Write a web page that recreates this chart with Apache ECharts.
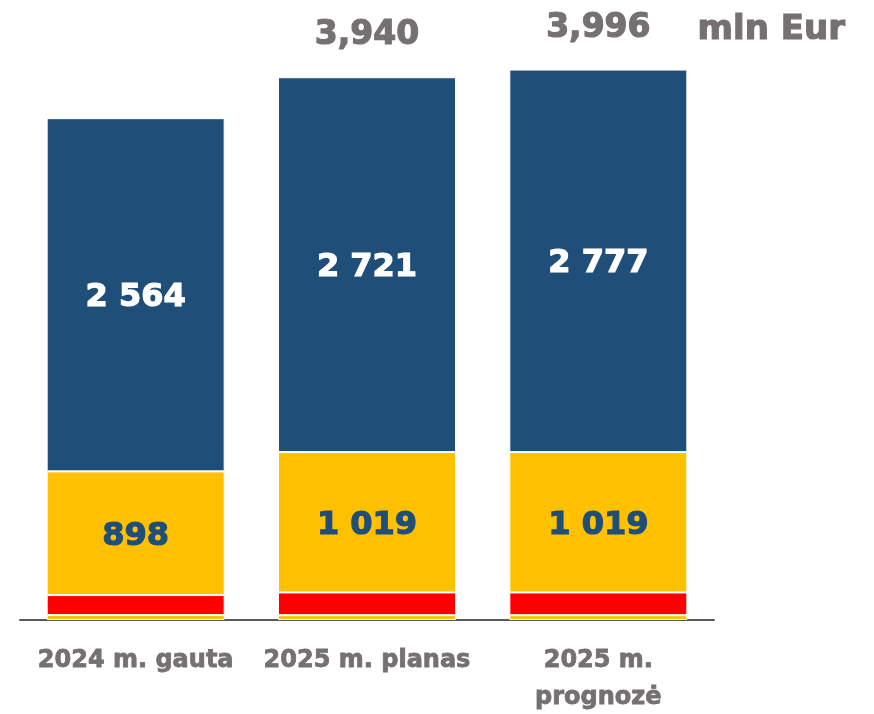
<!DOCTYPE html>
<html>
<head>
<meta charset="utf-8">
<script src="https://cdn.jsdelivr.net/npm/echarts@6/dist/echarts.min.js"></script>
<style>
html,body{margin:0;padding:0;background:#fff;}
#chart{width:874px;height:714px;}
</style>
</head>
<body>
<div id="chart"></div>
<script>
const categories = ['2024 m. gauta', '2025 m. planas', '2025 m.\nprognozė'];
const smallValues = [36, 35, 35];
const redValues = [145, 165, 165];
const yellowValues = [898, 1019, 1019];
const blueValues = [2564, 2721, 2777];
const totalLabels = ['', '3,940', '3,996'];
const unitLabel = 'mln Eur';

const FONT = '"DejaVu Sans", "Liberation Sans", Arial, sans-serif';
const GRAY = '#757171';
const fmt = v => String(v).replace(/\B(?=(\d{3})+(?!\d))/g, ' ');

const chart = echarts.init(document.getElementById('chart'));
const border = { borderColor: '#ffffff', borderWidth: 1 };
chart.setOption({
  animation: false,
  grid: { left: 20, right: 160, top: 69, bottom: 94, containLabel: false, outerBoundsMode: 'none' },
  xAxis: {
    type: 'category',
    data: categories,
    axisLine: { lineStyle: { color: '#595959', width: 2 } },
    axisTick: { show: false },
    axisLabel: {
      interval: 0, margin: 22, color: GRAY, fontFamily: FONT,
      fontSize: 24, fontWeight: 'bold', lineHeight: 37,
      textBorderColor: GRAY, textBorderWidth: 0.8
    }
  },
  yAxis: { type: 'value', min: 0, max: 4000, show: false, splitLine: { show: false } },
  series: [
    { name: 's', type: 'bar', stack: 't', barWidth: 178, data: smallValues,
      itemStyle: Object.assign({ color: '#FFC000' }, border) },
    { name: 'r', type: 'bar', stack: 't', data: redValues,
      itemStyle: Object.assign({ color: '#FF0000' }, border) },
    { name: 'y', type: 'bar', stack: 't', data: yellowValues,
      itemStyle: Object.assign({ color: '#FFC000' }, border),
      label: { show: true, position: 'inside', offset: [0, 3], color: '#1F4E79', fontFamily: FONT,
        fontSize: 32, fontWeight: 'bold', textBorderColor: '#1F4E79', textBorderWidth: 1.2,
        formatter: p => fmt(p.value) } },
    { name: 'b', type: 'bar', stack: 't', data: blueValues,
      itemStyle: Object.assign({ color: '#1F4E79' }, border),
      label: { show: true, position: 'inside', offset: [0, 3], color: '#ffffff', fontFamily: FONT,
        fontSize: 32, fontWeight: 'bold', textBorderColor: '#ffffff', textBorderWidth: 1.2,
        formatter: p => fmt(p.value) } },
    { name: 'tot', type: 'bar', stack: 't', data: [0, 0, 0],
      itemStyle: { color: 'transparent' },
      label: { show: true, position: 'top', distance: 25, color: GRAY, fontFamily: FONT,
        fontSize: 33, fontWeight: 'bold', textBorderColor: GRAY, textBorderWidth: 1.2,
        formatter: p => totalLabels[p.dataIndex] } }
  ],
  graphic: [
    { type: 'text', left: 697, top: 13,
      style: { text: unitLabel, fill: GRAY, font: 'bold 34px ' + FONT,
        stroke: GRAY, lineWidth: 1.2 } }
  ]
});
</script>
</body>
</html>
